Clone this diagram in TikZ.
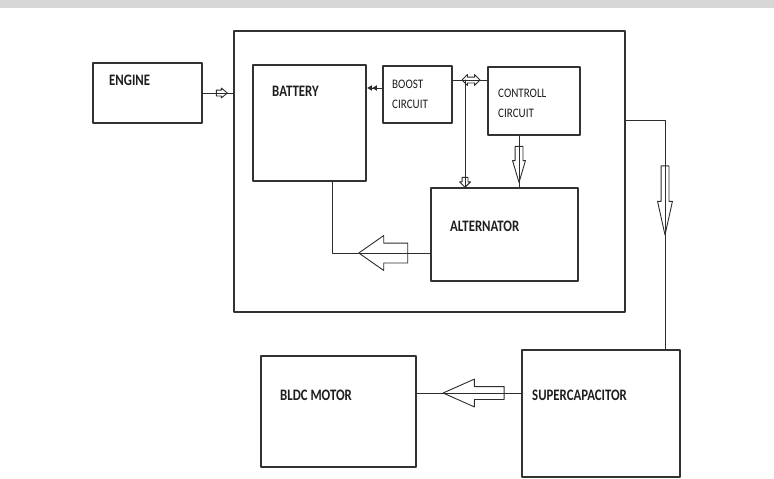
\documentclass[tikz,border=0pt]{standalone}
\usepackage{fontspec}
\setmainfont{Carlito}
\newfontfamily\narrowfont[FakeStretch=0.8]{Carlito}
\newfontfamily\slimfont[FakeStretch=0.85]{Carlito}
\usetikzlibrary{shapes.arrows,arrows.meta}

\begin{document}
\begin{tikzpicture}[x=1pt,y=-1pt,line cap=round,line join=round,
  blk/.style={draw=boxcol,line width=1.6pt,inner sep=0pt},
  blabel/.style={anchor=west,inner sep=0pt,font=\narrowfont\fontsize{16}{18}\selectfont\bfseries,text=txtcol},
  slabel/.style={anchor=west,inner sep=0pt,align=left,font=\slimfont\fontsize{13}{20}\selectfont,text=txtcol},
  link/.style={draw=linkcol,line width=1pt},
  flowarrow/.style={single arrow,draw=linkcol,line width=0.9pt,inner xsep=0pt,anchor=tip}]
  \definecolor{boxcol}{RGB}{50,50,50}
  \definecolor{linkcol}{RGB}{45,45,45}
  \definecolor{txtcol}{RGB}{30,30,30}
  \definecolor{bandcol}{RGB}{215,215,215}

  \useasboundingbox (0,0) rectangle (774,479);
  \fill[white] (0,0) rectangle (774,479);
  \fill[bandcol] (0,0) rectangle (774,8);

  % ---- blocks ----
  \node[blk,minimum width=109,minimum height=60] (engine) at (147.5,93) {};
  \node[blabel] (enginetxt) at (109,80.5) {ENGINE};

  \node[blk,line width=2.4pt,minimum width=391,minimum height=281] (frame) at (429.5,171.5) {};

  \node[blk,minimum width=113,minimum height=116] (battery) at (309.5,123) {};
  \node[blabel] (batterytxt) at (272,91.5) {BATTERY};

  \node[blk,minimum width=69,minimum height=57] (boost) at (417.5,94.5) {};
  \node[slabel] (boosttxt) at (392,94.5) {BOOST\\CIRCUIT};

  \node[blk,minimum width=92,minimum height=68] (controll) at (534,101) {};
  \node[slabel] (controlltxt) at (498,103) {CONTROLL\\CIRCUIT};

  \node[blk,minimum width=147,minimum height=93] (alternator) at (504.5,234.5) {};
  \node[blabel] (alternatortxt) at (450,226.5) {ALTERNATOR};

  \node[blk,minimum width=155,minimum height=111] (bldc) at (338.5,411.5) {};
  \node[blabel] (bldctxt) at (280,395) {BLDC MOTOR};

  \node[blk,minimum width=158,minimum height=127] (supercap) at (601,413.5) {};
  \node[blabel] (supercaptxt) at (532,395) {SUPERCAPACITOR};

  % ---- connectors ----
  % engine to frame
  \draw[link] (engine.east) -- (frame.west |- engine.east);
  \node[flowarrow,inner ysep=2.5,minimum height=11,single arrow head extend=2,
    single arrow tip angle=80] (enginearr) at (228,93) {};

  % battery <- boost
  \coordinate (bbrow) at (0,88);
  \draw[link,{Latex[length=5pt,width=6pt]Latex[length=5pt,width=6pt]}-]
    (battery.east |- bbrow) -- (boost.west |- bbrow);

  % boost <-> controll, tap down to alternator
  \coordinate (bcrow) at (465,80);
  \draw[link] (boost.east |- bcrow) -- (controll.west |- bcrow);
  \node[double arrow,draw=linkcol,line width=0.9pt,inner xsep=0pt,inner ysep=2.5,
    minimum height=18,double arrow head extend=2.5] (bcarr) at (471,80) {};
  \draw[link] (bcrow) -- (bcrow |- alternator.north);
  \node[flowarrow,rotate=-90,inner ysep=2.5,minimum height=10,
    single arrow head extend=2.5] (taparr) at (465,188) {};

  % controll to alternator
  \coordinate (cacol) at (519,0);
  \draw[link] (controll.south -| cacol) -- (alternator.north -| cacol);
  \node[flowarrow,rotate=-90,inner ysep=3.5,minimum height=36,
    single arrow head extend=2.5,single arrow tip angle=33] (caarr) at (519,184) {};

  % alternator back to battery
  \coordinate (ret) at (332,253);
  \draw[link] (alternator.west |- ret) -- (ret) -- (ret |- battery.south);
  \node[flowarrow,rotate=180,inner ysep=9.5,minimum height=49,
    single arrow head extend=7.5,single arrow tip angle=70] (retarr) at (358,253) {};

  % frame out to supercapacitor
  \coordinate (out) at (665,120);
  \draw[link] (frame.east |- out) -- (out) -- (out |- supercap.north);
  \node[flowarrow,rotate=-90,inner ysep=3.5,minimum height=69,
    single arrow head extend=3.5,single arrow tip angle=25] (outarr) at (665,237) {};

  % supercapacitor to motor
  \coordinate (drv) at (0,393);
  \draw[link] (supercap.west |- drv) -- (bldc.east |- drv);
  \node[flowarrow,rotate=180,inner ysep=6,minimum height=61,
    single arrow head extend=7.5,single arrow tip angle=48] (drvarr) at (442,393) {};
\end{tikzpicture}
\end{document}
